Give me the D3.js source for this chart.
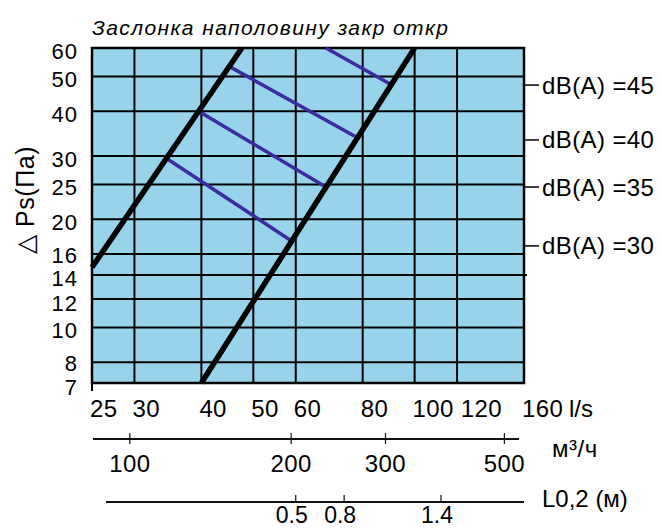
<!DOCTYPE html>
<html><head><meta charset="utf-8">
<script src="https://cdn.jsdelivr.net/npm/d3@7"></script>
<style>
body{margin:0;background:#fff}
text{font-family:"Liberation Sans", Arial, sans-serif; fill:#000}
</style>
</head><body>
<svg id="c" width="661" height="528"></svg>
<script>
// ---- data ----
const flowTicks = [25, 30, 40, 50, 60, 80, 100, 120, 160];          // l/s
const pressureTicks = [60, 50, 40, 30, 25, 20, 16, 14, 12, 10, 8, 7]; // Pa
const m3hTicks = [100, 200, 300, 500];                               // m3/h
const throwTicks = [0.5, 0.8, 1.4];                                  // L0.2 (m)
const throwCalibFlow = [60, 112];    // l/s
const throwCalibValue = [0.5, 1.4];  // m
const m3hPerLs = 3.4;
const damperLineA = [[25, 14.7], [47.6, 60]];
const damperLineB = [[40, 7], [100, 60]];
const dbLevels = [45, 40, 35, 30];
const db45 = [[68.3, 60], [90.7, 47.3]];
const db40 = [[44.9, 53.5], [78.4, 33.7]];
const db35 = [[39.4, 40.1], [68.3, 24.6]];
const db30 = [[34.4, 29.6], [59.3, 17.3]];
const titleText = "Заслонка наполовину закр откр";

// ---- layout ----
const svg = d3.select("#c");
const X0 = 92, X1 = 524, Y0 = 48, Y1 = 383;
const x = d3.scaleLog().domain([25, 160]).range([X0, X1]);
const y = d3.scaleLog().domain([7, 60]).range([Y1, Y0]);
const xm3h = d3.scaleLog().domain([25 * m3hPerLs, 160 * m3hPerLs]).range([X0, X1]);
const xThrow = d3.scaleLinear().domain(throwCalibValue).range(throwCalibFlow.map(x));

svg.append("rect").attr("x", X0).attr("y", Y0).attr("width", X1 - X0).attr("height", Y1 - Y0)
  .attr("fill", "#97d4ec");

// grid
svg.append("g").selectAll("line").data(pressureTicks).join("line")
  .attr("x1", X0).attr("x2", d => d === 14 ? X1 + 3 : X1)
  .attr("y1", d => y(d)).attr("y2", d => y(d))
  .attr("stroke", "#000").attr("stroke-width", 2);
svg.append("g").selectAll("line").data(flowTicks).join("line")
  .attr("x1", d => x(d)).attr("x2", d => x(d))
  .attr("y1", Y0).attr("y2", Y1)
  .attr("stroke", "#000").attr("stroke-width", 2);
// frame
svg.append("rect").attr("x", X0).attr("y", Y0).attr("width", X1 - X0).attr("height", Y1 - Y0)
  .attr("fill", "none").attr("stroke", "#000").attr("stroke-width", 2.5);
svg.append("line").attr("x1", X0).attr("x2", X0).attr("y1", Y1).attr("y2", Y1 + 8)
  .attr("stroke", "#000").attr("stroke-width", 2);

const line = d3.line().x(d => x(d[0])).y(d => y(d[1]));

// dB lines
[db45, db40, db35, db30].forEach(seg => {
  svg.append("path").attr("d", line(seg)).attr("fill", "none")
    .attr("stroke", "#3a2c9c").attr("stroke-width", 3.5);
});
// damper lines
[damperLineA, damperLineB].forEach(seg => {
  svg.append("path").attr("d", line(seg)).attr("fill", "none")
    .attr("stroke", "#000").attr("stroke-width", 5.5);
});

// dB labels
[db45, db40, db35, db30].forEach((seg, i) => {
  const yy = y(seg[1][1]) + (i === 3 ? 4 : i === 1 ? 2 : 0);
  svg.append("line").attr("x1", X1).attr("x2", X1 + 15).attr("y1", yy).attr("y2", yy)
    .attr("stroke", "#000").attr("stroke-width", 1.5);
  svg.append("text").attr("x", X1 + 18).attr("y", yy + 8.5)
    .attr("font-size", 24).attr("letter-spacing", 0.4).text(`dB(A) =${dbLevels[i]}`);
});

// y labels (with a minimal spacing so crowded labels do not collide)
const minGap = 24.5;
const labelY = pressureTicks.map(d => y(d) + 10.5);
for (let i = 1; i < labelY.length; i++) {
  const gap = labelY[i] - labelY[i - 1];
  if (gap < minGap) {
    const push = (minGap - gap) / 2;
    labelY[i - 1] -= push;
    labelY[i] += push;
  }
}
svg.append("g").selectAll("text").data(pressureTicks).join("text")
  .attr("x", 78).attr("y", (d, i) => labelY[i]).attr("text-anchor", "end")
  .attr("font-size", 22).attr("letter-spacing", 1).text(d => d);

// y title
svg.append("text").attr("transform", "translate(34,200) rotate(-90)")
  .attr("text-anchor", "middle").attr("font-size", 25).attr("letter-spacing", 0.6).text("△ Ps(Па)");

// title
svg.append("text").attr("x", 92).attr("y", 35).attr("font-size", 21)
  .attr("letter-spacing", 1.4).attr("font-style", "italic").text(titleText);

// x labels with simple anti-overlap
let prevEnd = -Infinity;
flowTicks.forEach(v => {
  const t = svg.append("text").attr("y", 417).attr("font-size", 24).attr("letter-spacing", 0.4).text(v);
  const w = t.node().getComputedTextLength();
  const sx = Math.max(x(v) - 2, prevEnd + 7);
  t.attr("x", sx);
  prevEnd = sx + w;
});
svg.append("text").attr("x", 569).attr("y", 417).attr("font-size", 24).text("l/s");

// m3/h axis
const yA2 = 439;
svg.append("line").attr("x1", X0 + 1).attr("x2", X1 - 5).attr("y1", yA2).attr("y2", yA2)
  .attr("stroke", "#111").attr("stroke-width", 2);
svg.append("g").selectAll("line").data(m3hTicks).join("line")
  .attr("x1", d => xm3h(d)).attr("x2", d => xm3h(d)).attr("y1", yA2 - 6).attr("y2", yA2 + 5)
  .attr("stroke", "#111").attr("stroke-width", 1.2);
svg.append("g").selectAll("text").data(m3hTicks).join("text")
  .attr("x", d => xm3h(d)).attr("y", 472).attr("text-anchor", "middle")
  .attr("font-size", 24).attr("letter-spacing", 0.4).text(d => d);
svg.append("text").attr("x", 552).attr("y", 457).attr("font-size", 24).attr("letter-spacing", 0.5).text("м³/ч");

// throw axis
const yA3 = 502;
svg.append("line").attr("x1", X0 + 14).attr("x2", X1).attr("y1", yA3).attr("y2", yA3)
  .attr("stroke", "#111").attr("stroke-width", 2);
svg.append("g").selectAll("line").data(throwTicks).join("line")
  .attr("x1", d => xThrow(d)).attr("x2", d => xThrow(d)).attr("y1", yA3 - 7).attr("y2", yA3)
  .attr("stroke", "#111").attr("stroke-width", 1.2);
svg.append("g").selectAll("text").data(throwTicks).join("text")
  .attr("x", d => xThrow(d) - 4).attr("y", 523).attr("text-anchor", "middle")
  .attr("font-size", 23).text(d => d);
svg.append("text").attr("x", 542).attr("y", 507).attr("font-size", 24).text("L0,2 (м)");
</script>
</body></html>
